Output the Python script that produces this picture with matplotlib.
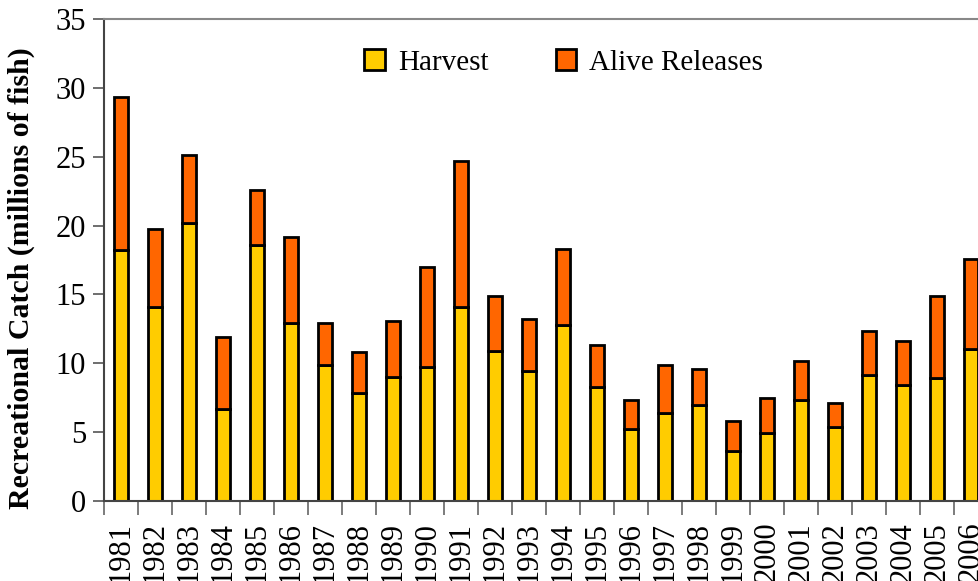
import numpy as np
import matplotlib
matplotlib.use('Agg')
import matplotlib.pyplot as plt
from matplotlib.ticker import FixedLocator

plt.rcParams['font.family'] = ['Liberation Serif', 'DejaVu Serif']

# data (millions of fish)
years = [str(y) for y in range(1981, 2007)]
harvest = [18.2, 14.1, 20.2, 6.7, 18.6, 12.95, 9.9, 7.85, 9.0, 9.75,
           14.1, 10.9, 9.45, 12.8, 8.3, 5.25, 6.4, 6.95, 3.65, 4.95,
           7.3, 5.4, 9.15, 8.45, 8.9, 11.05]
total = [29.35, 19.75, 25.1, 11.9, 22.55, 19.2, 12.95, 10.8, 13.05, 17.0,
         24.7, 14.85, 13.25, 18.3, 11.35, 7.3, 9.9, 9.6, 5.8, 7.45,
         10.2, 7.1, 12.35, 11.65, 14.85, 17.6]
releases = [t - h for t, h in zip(total, harvest)]

fig = plt.figure(figsize=(9.79, 5.81), dpi=100)
ax = fig.add_axes([104 / 979, 1 - 501 / 581, 884 / 979, 482 / 581])

x = np.arange(len(years))
ax.bar(x, harvest, width=0.44, color='#FFCC00', edgecolor='black',
       linewidth=2, label='Harvest')
ax.bar(x, releases, width=0.44, bottom=harvest, color='#FF6600',
       edgecolor='black', linewidth=2, label='Alive Releases')

ax.set_xlim(-0.5, len(years) - 0.5)
ax.set_ylim(0, 35)
ax.set_yticks(np.arange(0, 36, 5))
ax.tick_params(axis='y', labelsize=22, length=8, width=1.2, color='#555555',
               direction='out', pad=5)

ax.set_xticks(x)
ax.set_xticklabels(years, rotation=90, fontsize=22)
ax.xaxis.set_minor_locator(FixedLocator(np.arange(-0.5, len(years), 1)))
ax.tick_params(axis='x', which='major', length=0, pad=15)
ax.tick_params(axis='x', which='minor', length=10, width=1.2, color='#666666')

ax.spines['left'].set_color('#444444')
ax.spines['left'].set_linewidth(1.5)
ax.spines['bottom'].set_color('#444444')
ax.spines['bottom'].set_linewidth(1.5)
ax.spines['top'].set_color('#888888')
ax.spines['top'].set_linewidth(1.5)
ax.spines['right'].set_visible(False)

ax.set_ylabel('Recreational Catch (millions of fish)', fontsize=21.5,
              fontweight='bold')
ax.yaxis.set_label_coords(-0.078, 0.463)

ax.legend(loc='center', bbox_to_anchor=(0.52, 0.91), ncol=2,
          frameon=False, fontsize=21, handlelength=0.7, handleheight=0.7,
          handletextpad=0.45, columnspacing=2.3)

fig.savefig('out.png', dpi=100)
